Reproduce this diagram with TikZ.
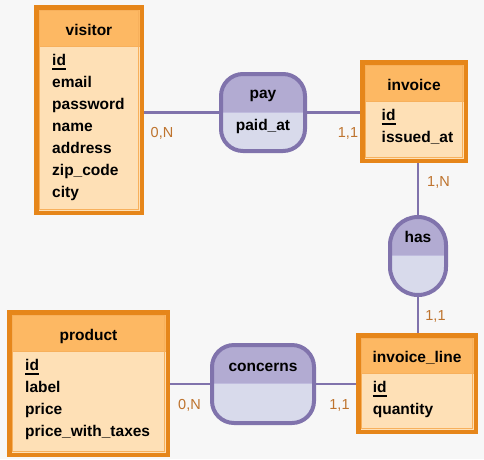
\documentclass[tikz,border=0pt]{standalone}
\usepackage{fontspec}
\setmainfont{Liberation Sans}
\definecolor{bg}{RGB}{247,247,247}
\definecolor{entstroke}{RGB}{230,134,26}
\definecolor{enthead}{RGB}{253,184,99}
\definecolor{entbody}{RGB}{254,224,182}
\definecolor{entline}{RGB}{247,176,92}
\definecolor{relstroke}{RGB}{128,115,172}
\definecolor{relhead}{RGB}{178,171,210}
\definecolor{relbody}{RGB}{216,218,235}
\definecolor{relsep}{RGB}{192,188,222}
\definecolor{lblcol}{RGB}{190,115,45}
\tikzset{
  entity/.style={draw=entstroke, line width=4.5pt, fill=entbody, inner sep=0pt},
  entityhead/.style={path picture={
     \fill[enthead, sharp corners] (path picture bounding box.north west) rectangle ([yshift=-#1pt]path picture bounding box.north east);
     \draw[entline, line width=1pt, sharp corners] ([yshift=-#1pt]path picture bounding box.north west) -- ([yshift=-#1pt]path picture bounding box.north east);
     \draw[entline, line width=1pt, sharp corners] ([shift={(3pt,-3pt)}]path picture bounding box.north west) rectangle ([shift={(-3pt,3pt)}]path picture bounding box.south east);
  }},
  relation/.style={draw=relstroke, line width=4pt, fill=relbody, inner sep=0pt,
     path picture={
     \fill[relhead, sharp corners] (path picture bounding box.north west) rectangle ([yshift=0.5pt]path picture bounding box.east);
     \draw[relsep, line width=1pt, sharp corners] ([yshift=0.5pt]path picture bounding box.west) -- ([yshift=0.5pt]path picture bounding box.east);
  }},
  ttl/.style={anchor=base, inner sep=0pt, font=\fontsize{15.5}{18}\selectfont\bfseries},
  attr/.style={anchor=base west, inner sep=0pt, font=\fontsize{15.5}{18}\selectfont\bfseries},
  idline/.style={line width=2.2pt, black},
  conn/.style={draw=relstroke, line width=2.2pt},
  lbl/.style={anchor=base, inner sep=0pt, text=lblcol, font=\fontsize{14.5}{17}\selectfont}
}
\begin{document}
\begin{tikzpicture}[x=1pt,y=-1pt]
\useasboundingbox[fill=bg] (0,0) rectangle (484,459);

% entities
\node[entity, entityhead=38.75, minimum width=105.5pt, minimum height=205.5pt] (visitor) at (89,110) {};
\node[entity, entityhead=38.75, minimum width=103.5pt, minimum height=98.5pt] (invoice) at (414,111.5) {};
\node[entity, entityhead=38, minimum width=117.5pt, minimum height=96.5pt] (invline) at (417,383.5) {};
\node[entity, entityhead=38.75, minimum width=158.5pt, minimum height=142.5pt] (product) at (88.5,383.5) {};

% relations
\node[relation, rounded corners=22pt, minimum width=84pt, minimum height=77pt] (pay) at (263,112.5) {};
\node[relation, rounded corners=28pt, minimum width=56pt, minimum height=78pt] (has) at (418,256) {};
\node[relation, rounded corners=22pt, minimum width=102pt, minimum height=78pt] (concerns) at (263,384) {};

% connectors
\draw[conn] (pay.west) -- (pay.west -| visitor.east);
\draw[conn] (pay.east) -- (pay.east -| invoice.west);
\draw[conn] (has.north) -- (has.north |- invoice.south);
\draw[conn] (has.south) -- (has.south |- invline.north);
\draw[conn] (concerns.west) -- (concerns.west -| product.east);
\draw[conn] (concerns.east) -- (concerns.east -| invline.west);

% entity texts
\node[ttl] (visitor-t) at (89,35) {visitor};
\node[attr] (visitor-id) at (52,65.7) {id};
\node[attr] (visitor-a2) at (52,87.7) {email};
\node[attr] (visitor-a3) at (52,109.7) {password};
\node[attr] (visitor-a4) at (52,131.7) {name};
\node[attr] (visitor-a5) at (52,153.7) {address};
\node[attr] (visitor-a6) at (52,175.7) {zip\_code};
\node[attr] (visitor-a7) at (52,197.7) {city};
\draw[idline] ([yshift=-3.6pt]visitor-id.base west) -- ([yshift=-3.6pt]visitor-id.base east);

\node[ttl] (invoice-t) at (414,90) {invoice};
\node[attr] (invoice-id) at (381.5,120.7) {id};
\node[attr] (invoice-a2) at (381.5,142.7) {issued\_at};
\draw[idline] ([yshift=-3.6pt]invoice-id.base west) -- ([yshift=-3.6pt]invoice-id.base east);

\node[ttl] (invline-t) at (417,362.5) {invoice\_line};
\node[attr] (invline-id) at (372.7,392.7) {id};
\node[attr] (invline-a2) at (372.7,414.7) {quantity};
\draw[idline] ([yshift=-3.6pt]invline-id.base west) -- ([yshift=-3.6pt]invline-id.base east);

\node[ttl] (product-t) at (88.5,340) {product};
\node[attr] (product-id) at (25,370.7) {id};
\node[attr] (product-a2) at (25,392.7) {label};
\node[attr] (product-a3) at (25,414.7) {price};
\node[attr] (product-a4) at (25,436.7) {price\_with\_taxes};
\draw[idline] ([yshift=-3.6pt]product-id.base west) -- ([yshift=-3.6pt]product-id.base east);

% relation texts
\node[ttl] (pay-t) at (263,98.5) {pay};
\node[ttl] (pay-a) at (263,130.5) {paid\_at};
\node[ttl] (has-t) at (418,242.5) {has};
\node[ttl] (concerns-t) at (263,371) {concerns};

% cardinalities
\node[lbl] (c1) at (162,137) {0,N};
\node[lbl] (c2) at (348,137) {1,1};
\node[lbl] (c3) at (438.5,186.5) {1,N};
\node[lbl] (c4) at (435.5,320) {1,1};
\node[lbl] (c5) at (189.5,409) {0,N};
\node[lbl] (c6) at (339.5,409) {1,1};
\end{tikzpicture}
\end{document}
